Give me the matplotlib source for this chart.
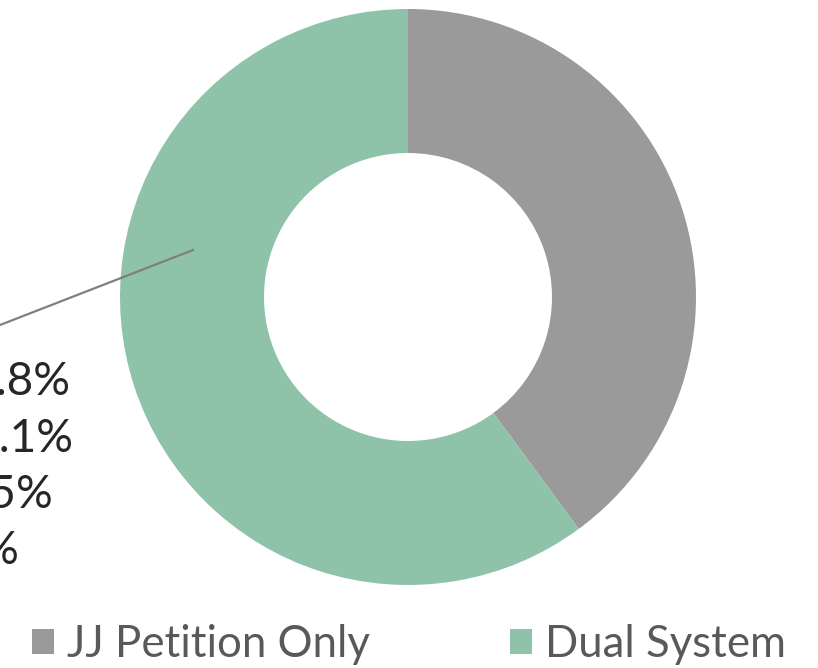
import matplotlib.pyplot as plt
from matplotlib.patches import Patch

# data
categories = ["JJ Petition Only", "Dual System"]
shares = [39.9, 60.1]
colors = ["#9a9a9a", "#8ec3a9"]
# multi-line data label of the green slice (partly off the left edge)
label_lines = ["2017: 59.8%", "2018: 60.1%", "2019: 62.5%", "2020: 6%"]
label_ends = [70, 73, 53, 19]

W, H = 818, 668
fig = plt.figure(figsize=(W / 100, H / 100), dpi=100)
ax = fig.add_axes([0, 0, 1, 1])

cx, cy, r = 408, H - 297, 288
wedges, _ = ax.pie(shares, colors=colors, startangle=90, counterclock=False,
                   center=(cx, cy), radius=r, frame=True,
                   wedgeprops=dict(width=r / 2, edgecolor="none", linewidth=0))
ax.set_xlim(0, W)
ax.set_ylim(0, H)
ax.set_aspect("equal")
ax.set_axis_off()

# leader line
ax.plot([193, -200], [H - 250, H - 250 - 393 * 75 / 193], color="#7f7f7f", lw=1.6)

font = "Lato"
for i, (txt, xe) in enumerate(zip(label_lines, label_ends)):
    ax.text(xe, H - 395 - i * 56.5, txt, ha="right", va="baseline",
            fontsize=33, color="#262626", family=font)

handles = [Patch(facecolor=c, edgecolor="none") for c in colors]
fig.legend(handles, categories, loc="lower center", ncol=2, frameon=False,
           bbox_to_anchor=(0.5, -0.055), handlelength=0.5, handleheight=0.5,
           handletextpad=0.3, columnspacing=3.2, labelcolor="#595959",
           prop=dict(family=font, size=31.5))

fig.savefig("out.png", dpi=100)
